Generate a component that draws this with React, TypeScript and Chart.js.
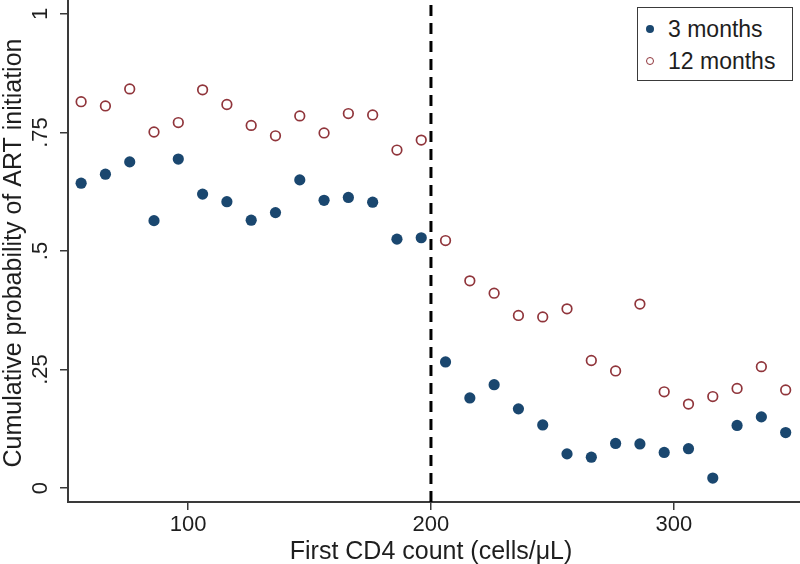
import React, { useEffect, useRef } from "react";
import { Chart, registerables } from "chart.js";

Chart.register(...registerables);

// first CD4 count bins (cells/uL), x position of each point
const cd4Bins = [
  56, 66, 76, 86, 96, 106, 116, 126, 136, 146, 156, 166, 176, 186, 196, 206,
  216, 226, 236, 246, 256, 266, 276, 286, 296, 306, 316, 326, 336, 346,
];
const threeMonths = [
  0.643, 0.662, 0.688, 0.564, 0.694, 0.62, 0.604, 0.565, 0.581, 0.65, 0.607,
  0.613, 0.603, 0.525, 0.528, 0.266, 0.19, 0.218, 0.167, 0.133, 0.072, 0.065,
  0.094, 0.093, 0.075, 0.083, 0.021, 0.132, 0.15, 0.117,
];
const twelveMonths = [
  0.815, 0.806, 0.842, 0.751, 0.771, 0.84, 0.809, 0.765, 0.743, 0.785, 0.749,
  0.79, 0.787, 0.713, 0.734, 0.522, 0.437, 0.411, 0.364, 0.361, 0.378, 0.269,
  0.247, 0.388, 0.203, 0.177, 0.193, 0.21, 0.256, 0.207,
];
const xTicks = [100, 200, 300];
const yTicks = [0, 0.25, 0.5, 0.75, 1];
const yTickLabels = ["0", ".25", ".5", ".75", "1"];
const cutoff = 200;

const X_MIN = 50.6;
const X_MAX = 351.9;
const Y_MIN = -0.0295;
const Y_MAX = 1.0295;

const NAVY = "#1a476f";
const MAROON = "#90353b";
const AXIS = "#3a3a3a";
const TEXT = "#1e1e1e";
const FONT = "'Liberation Sans', Arial, Helvetica, sans-serif";

// rotated y tick labels and both axis titles
const labelsPlugin = {
  id: "stataLabels",
  afterDraw(chart: Chart) {
    const { ctx, chartArea } = chart;
    const y = chart.scales.y;
    ctx.save();
    ctx.fillStyle = TEXT;
    ctx.textAlign = "center";
    ctx.textBaseline = "alphabetic";
    ctx.font = `22px ${FONT}`;
    yTicks.forEach((v, i) => {
      ctx.save();
      ctx.translate(47, y.getPixelForValue(v));
      ctx.rotate(-Math.PI / 2);
      ctx.fillText(yTickLabels[i], 0, 0);
      ctx.restore();
    });
    ctx.font = `25px ${FONT}`;
    ctx.save();
    ctx.translate(21, (chartArea.top + chartArea.bottom) / 2 + 2);
    ctx.rotate(-Math.PI / 2);
    ctx.fillText("Cumulative probability of ART initiation", 0, 0);
    ctx.restore();
    ctx.fillText("First CD4 count (cells/\u03bcL)", 431, 559);
    ctx.restore();
  },
};

const App: React.FC = () => {
  const canvasRef = useRef<HTMLCanvasElement | null>(null);
  const chartRef = useRef<Chart | null>(null);

  useEffect(() => {
    document.body.style.margin = "0";
    if (!canvasRef.current) return;
    const ctx = canvasRef.current.getContext("2d");
    if (!ctx) return;
    if (chartRef.current) chartRef.current.destroy();

    chartRef.current = new Chart(ctx, {
      type: "scatter",
      data: {
        datasets: [
          {
            label: "3 months",
            data: cd4Bins.map((x, i) => ({ x, y: threeMonths[i] })),
            pointRadius: 5.6,
            pointBackgroundColor: NAVY,
            pointBorderColor: NAVY,
            pointBorderWidth: 0,
            order: 1,
          },
          {
            label: "12 months",
            data: cd4Bins.map((x, i) => ({ x, y: twelveMonths[i] })),
            pointRadius: 4.8,
            pointBackgroundColor: "#ffffff",
            pointBorderColor: MAROON,
            pointBorderWidth: 1.7,
            order: 2,
          },
          {
            type: "line",
            label: "cutoff",
            data: [
              { x: cutoff, y: Y_MIN },
              { x: cutoff, y: Y_MAX },
            ],
            borderColor: "#000000",
            borderWidth: 3,
            borderDash: [11, 7],
            pointRadius: 0,
            order: 3,
          } as any,
        ],
      },
      options: {
        responsive: false,
        animation: false,
        layout: { padding: 0, autoPadding: false },
        plugins: {
          legend: { display: false },
          tooltip: { enabled: false },
        },
        scales: {
          x: {
            type: "linear",
            min: X_MIN,
            max: X_MAX,
            afterBuildTicks: (scale: any) => {
              scale.ticks = xTicks.map((value) => ({ value }));
            },
            afterFit: (scale: any) => {
              scale.height = 62;
            },
            ticks: {
              color: TEXT,
              font: { family: FONT, size: 22 },
              padding: 2,
              maxRotation: 0,
            },
            grid: {
              drawOnChartArea: false,
              tickLength: 8,
              color: AXIS,
              lineWidth: 1.5,
            },
            border: { color: AXIS, width: 2 },
          },
          y: {
            type: "linear",
            min: Y_MIN,
            max: Y_MAX,
            afterBuildTicks: (scale: any) => {
              scale.ticks = yTicks.map((value) => ({ value }));
            },
            afterFit: (scale: any) => {
              scale.width = 68;
            },
            ticks: { display: false },
            grid: {
              drawOnChartArea: false,
              tickLength: 8,
              color: AXIS,
              lineWidth: 1.5,
            },
            border: { color: AXIS, width: 2 },
          },
        },
      },
      plugins: [labelsPlugin],
    });

    return () => {
      if (chartRef.current) {
        chartRef.current.destroy();
        chartRef.current = null;
      }
    };
  }, []);

  const legendRow = (filled: boolean, text: string) => (
    <div
      style={{
        display: "flex",
        alignItems: "center",
        height: 32,
      }}
    >
      <span
        style={{
          display: "inline-block",
          boxSizing: "border-box",
          width: 8,
          height: 8,
          borderRadius: "50%",
          marginLeft: 8,
          marginRight: 14,
          background: filled ? NAVY : "#ffffff",
          border: filled ? "none" : `1.4px solid ${MAROON}`,
        }}
      />
      <span style={{ fontSize: 23, color: TEXT, lineHeight: "32px" }}>
        {text}
      </span>
    </div>
  );

  return (
    <div
      style={{
        position: "relative",
        width: 800,
        height: 564,
        background: "#ffffff",
        fontFamily: FONT,
      }}
    >
      <canvas ref={canvasRef} width={800} height={564} />
      <div
        style={{
          position: "absolute",
          left: 637,
          top: 7,
          width: 156,
          height: 74,
          boxSizing: "border-box",
          border: `1px solid ${AXIS}`,
          background: "#ffffff",
          paddingTop: 5,
        }}
      >
        {legendRow(true, "3 months")}
        {legendRow(false, "12 months")}
      </div>
    </div>
  );
};

export default App;
